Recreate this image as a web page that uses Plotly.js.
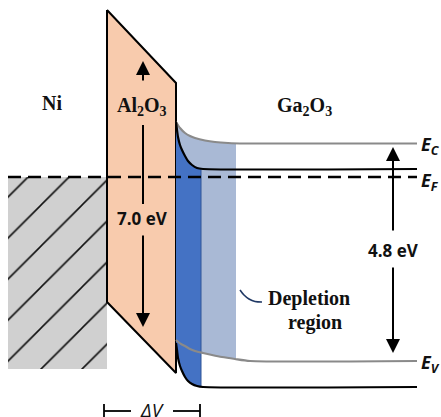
<!DOCTYPE html>
<html><head><meta charset="utf-8">
<script src="https://cdn.plot.ly/plotly-3.0.1.min.js"></script>
<style>html,body{margin:0;padding:0;background:#fff}#chart{width:441px;height:417px}</style>
</head><body><div id="chart"></div>
<script>
// ---- Band-diagram data (in pixel-space units) ----
const regionLabels = ["Ni", "Al<sub>2</sub>O<sub>3</sub>", "Ga<sub>2</sub>O<sub>3</sub>"];
const gapAl2O3 = "7.0 eV";
const gapGa2O3 = "4.8 eV";
const levelLabels = ["E<sub>C</sub>", "E<sub>F</sub>", "E<sub>V</sub>"];
const levelY = [143.5, 177, 361];           // Ec, Ef, Ev flat levels in Ga2O3
// Ni metal block
const niX = [8, 107, 107, 8];
const niY = [177, 177, 369, 369];
// Al2O3 insulator (tilted band)
const alX = [107, 176, 176, 107];
const alY = [10, 83, 373, 302];
// Ga2O3 bent bands
const ecGrayX = [176, 180, 185, 190, 195, 205, 215, 228, 245, 417];
const ecGrayY = [122, 128, 133, 136, 138, 140.5, 142, 143, 143.5, 143.5];
const ecBlackX = [176, 177, 178, 180, 182, 185, 188, 192, 197, 203, 417];
const ecBlackY = [122, 130, 137, 145, 150, 156, 161, 165, 168, 169, 169];
const evGrayX = [176, 181, 185, 190, 195, 203, 212, 222, 235, 250, 417];
const evGrayY = [340, 344, 346, 349, 351, 353, 355, 357, 359, 361, 361];
const evBlackX = [176, 177, 178, 180, 182, 185, 188, 192, 197, 203, 417];
const evBlackY = [343, 350, 358, 366, 371, 377, 381, 384, 386, 387, 387];
const depletionEdges = [201, 236];         // dark / light depletion widths
const fermiX = [8, 417];
const leaderX = [240, 244, 249, 255, 262];
const leaderY = [290, 295, 299, 301.5, 302];

function clipCurve(xs, ys, xmax) {
  const ox = [], oy = [];
  for (let i = 0; i < xs.length; i++) {
    if (xs[i] <= xmax) { ox.push(xs[i]); oy.push(ys[i]); }
    else {
      const t = (xmax - xs[i-1]) / (xs[i] - xs[i-1]);
      ox.push(xmax); oy.push(ys[i-1] + t * (ys[i] - ys[i-1]));
      break;
    }
  }
  return [ox, oy];
}
function band(topX, topY, botX, botY, xmax) {
  const [tx, ty] = clipCurve(topX, topY, xmax);
  const [bx, by] = clipCurve(botX, botY, xmax);
  return [tx.concat(bx.slice().reverse()), ty.concat(by.slice().reverse())];
}
const light = band(ecGrayX, ecGrayY, evGrayX, evGrayY, depletionEdges[1]);
const dark = band(ecBlackX, ecBlackY, evBlackX, evBlackY, depletionEdges[0]);
const darkEdgeTop = clipCurve(ecBlackX, ecBlackY, depletionEdges[0]);
const darkEdgeBot = clipCurve(evBlackX, evBlackY, depletionEdges[0]);

const L = (x, y, color, width, extra) => Object.assign({x, y, mode: 'lines', hoverinfo: 'skip',
  line: {color, width}}, extra || {});
const curve = (x, y, color) => L(x, y, color, 2.2, {line: {color, width: 2.2, shape: 'spline', smoothing: 0.6}});

const traces = [
  // Ni hatched block
  {x: niX, y: niY, mode: 'lines', fill: 'toself', fillcolor: '#d0d0d0', line: {width: 0, color: 'rgba(0,0,0,0)'},
   fillpattern: {shape: '/', bgcolor: '#d0d0d0', fgcolor: '#111', size: 29, solidity: 0.055}, hoverinfo: 'skip'},
  // Al2O3
  {x: alX.concat([alX[0]]), y: alY.concat([alY[0]]), mode: 'lines', fill: 'toself', fillcolor: '#f8cbad',
   line: {color: '#000', width: 2}, hoverinfo: 'skip'},
  // depletion regions
  {x: light[0], y: light[1], mode: 'lines', fill: 'toself', fillcolor: '#a9b9d5', line: {width: 0, color: 'rgba(0,0,0,0)'}, hoverinfo: 'skip'},
  {x: dark[0], y: dark[1], mode: 'lines', fill: 'toself', fillcolor: '#4472c4', line: {width: 0, color: 'rgba(0,0,0,0)'}, hoverinfo: 'skip'},
  L([depletionEdges[0], depletionEdges[0]], [darkEdgeTop[1][darkEdgeTop[1].length-1], darkEdgeBot[1][darkEdgeBot[1].length-1]], '#2f5597', 1),
  // bands
  curve(ecGrayX, ecGrayY, '#8a8a8a'),
  curve(evGrayX, evGrayY, '#8a8a8a'),
  curve(ecBlackX, ecBlackY, '#000'),
  curve(evBlackX, evBlackY, '#000'),
  // Fermi level
  L(fermiX, [levelY[1], levelY[1]], '#000', 2.4, {line: {color: '#000', width: 2.4, dash: '13px,7px'}}),
  // Al2O3 arrow middle shaft
  L([143, 143], [125, 204], '#000', 2),
  // leader line
  L(leaderX, leaderY, '#1f3864', 1.6, {line: {color: '#1f3864', width: 1.6, shape: 'spline'}}),
  // delta V bracket
  L([104, 131], [411, 411], '#000', 1.8),
  L([104, 104], [404, 418], '#000', 1.8),
  L([173, 200], [411, 411], '#000', 1.8),
  L([200, 200], [404, 418], '#000', 1.8),
];

function arrow(x, yTail, yHead) {
  return {x, y: yHead, ax: x, ay: yTail, xref: 'x', yref: 'y', axref: 'x', ayref: 'y',
    text: '', showarrow: true, arrowhead: 2, arrowsize: 1.4, arrowwidth: 2, arrowcolor: '#000', standoff: 0, startstandoff: 0};
}
const serif = {family: 'Liberation Serif, Times New Roman, serif', size: 20, color: '#111'};
const sans = {family: 'Open Sans, Lato, sans-serif', size: 17, color: '#111'};
const ital = {family: 'Open Sans, Lato, sans-serif', size: 18, color: '#111'};
function txt(x, y, text, font, xanchor) {
  return {x, y, xref: 'x', yref: 'y', text, showarrow: false, font, xanchor: xanchor || 'center', yanchor: 'middle'};
}
const b = s => '<b>' + s + '</b>';
const bi = s => '<b><i>' + s + '</i></b>';
const annotations = [
  arrow(143, 82, 61), arrow(143, 234, 327),
  arrow(393, 232, 147), arrow(393, 266, 353),
  txt(52, 103, b(regionLabels[0]), serif),
  txt(142, 106, b(regionLabels[1]), serif),
  txt(304, 106, b(regionLabels[2]), serif),
  txt(142, 218, b(gapAl2O3), sans),
  txt(393, 250, b(gapGa2O3), sans),
  txt(309, 298, b('Depletion'), serif),
  txt(315, 322, b('region'), serif),
  txt(419, levelY[0] + 2, bi(levelLabels[0]), ital, 'left'),
  txt(419, levelY[1] + 4, bi(levelLabels[1]), ital, 'left'),
  txt(419, levelY[2] + 2, bi(levelLabels[2]), ital, 'left'),
  txt(152, 410, '<i>ΔV</i>', {family: 'Open Sans, Lato, sans-serif', size: 19, color: '#111'}),
];

const layout = {
  width: 441, height: 417, margin: {l: 0, r: 0, t: 0, b: 0},
  paper_bgcolor: '#fff', plot_bgcolor: '#fff', showlegend: false,
  xaxis: {range: [0, 441], visible: false, fixedrange: true},
  yaxis: {range: [417, 0], visible: false, fixedrange: true},
  annotations
};
Plotly.newPlot('chart', traces, layout, {staticPlot: true, displayModeBar: false});
</script></body></html>
